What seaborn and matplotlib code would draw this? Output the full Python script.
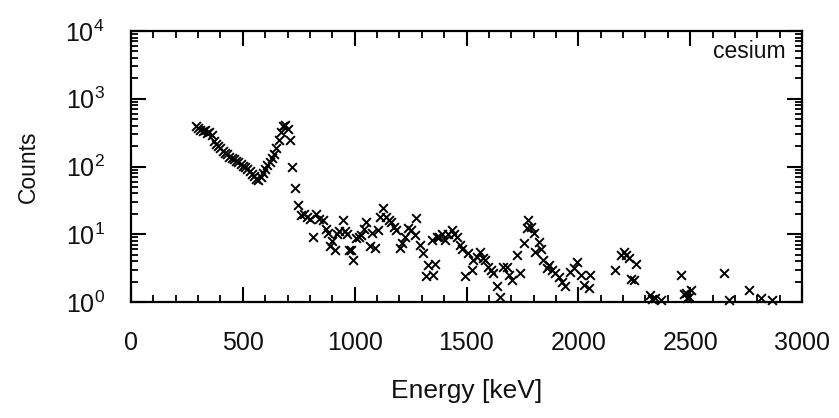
import numpy as np
import pandas as pd
import matplotlib
matplotlib.use("Agg")
import matplotlib.pyplot as plt
import seaborn as sns
from matplotlib.ticker import LogLocator, MultipleLocator, NullFormatter

# Gamma spectrum of a Cs-137 source: bin energy [keV] and counts per bin
energy = [
    290, 300, 310, 320, 330, 340, 350, 360, 370, 380, 390, 400, 410, 420, 430,
    440, 450, 460, 470, 480, 490, 500, 510, 520, 530, 540, 550, 560, 570, 580,
    590, 600, 610, 620, 630, 640, 650, 660, 670, 680, 690, 700, 710,
    720, 732, 745, 760, 772, 785, 800, 812, 827, 842, 857, 870, 879, 888, 900,
    910, 922, 931, 946, 955, 966, 976, 985, 994, 1006, 1018, 1030, 1041, 1052,
    1067, 1078, 1090, 1104, 1115, 1126, 1141, 1152, 1164, 1176, 1187, 1201,
    1212, 1224, 1239, 1253, 1268, 1276, 1291, 1306, 1321, 1329, 1344, 1351,
    1359, 1366, 1378, 1390, 1404, 1418, 1433, 1445, 1456, 1471, 1482, 1493,
    1508, 1523, 1530, 1545, 1561, 1572, 1583, 1595, 1608, 1620, 1635, 1650,
    1665, 1680, 1692, 1703, 1725, 1740, 1755, 1770, 1777, 1789, 1800, 1807,
    1822, 1833, 1844, 1859, 1870, 1884, 1897, 1912, 1926, 1941, 1964, 1979,
    1994, 2010, 2024, 2046, 2054, 2166, 2190, 2203, 2214, 2226, 2237, 2248,
    2256, 2319, 2330, 2345, 2368, 2457, 2471, 2480, 2488, 2495, 2502, 2652,
    2673, 2763, 2815, 2865,
]
counts = [
    390, 370, 340, 330, 350, 310, 320, 290, 240, 215, 200, 190, 170, 160, 155,
    140, 132, 128, 122, 118, 110, 103, 97, 92, 85, 78, 72, 66, 63, 70,
    80, 92, 105, 118, 135, 155, 190, 250, 320, 400, 410, 360, 250,
    100, 48, 27, 19, 20, 18, 17, 9.2, 20, 17, 16, 12, 10.4, 6.6, 8,
    5.9, 10, 11, 16, 11, 10, 5.9, 5.9, 4.2, 8.8, 9, 9.8, 12, 15.4,
    6.6, 10.4, 6.2, 11.6, 18, 24, 18, 16, 15.4, 13, 11.6, 6.2,
    7.5, 9.2, 12.3, 11.6, 9.8, 17.3, 7.0, 5.2, 2.4, 3.5, 8.3, 2.5,
    3.7, 9.2, 9, 10, 8.3, 10, 11.6, 10, 9.2, 7.0, 6, 2.4,
    5.2, 3.0, 4.2, 4.6, 5.5, 4.5, 4.2, 3.3, 3.0, 2.7, 1.7, 1.2,
    3.3, 3.26, 2.5, 2.1, 5.0, 2.7, 7.4, 12.3, 16.3, 13, 10.4, 5.5,
    7.8, 6, 4.2, 3.15, 3.5, 3, 2.7, 2.3, 2.0, 1.7, 2.8, 3.2,
    3.9, 2.5, 1.78, 1.6, 2.5, 3.0, 5, 5.5, 5, 4.4, 2.2, 2.1,
    3.7, 1.27, 1.1, 1.13, 1.07, 2.5, 1.3, 1.35, 1.13, 1.2, 1.5, 2.65,
    1.07, 1.5, 1.13, 1.07,
]
source_label = "cesium"
x_ticks = [0, 500, 1000, 1500, 2000, 2500, 3000]

df = pd.DataFrame({"Energy": energy, "Counts": counts})

sns.set_theme(style="ticks")
plt.rcParams["font.family"] = ["Liberation Sans", "DejaVu Sans"]
plt.rcParams["mathtext.fontset"] = "custom"
plt.rcParams["mathtext.rm"] = "Liberation Sans"
plt.rcParams["mathtext.it"] = "Liberation Sans"
plt.rcParams["mathtext.bf"] = "Liberation Sans"

fig, ax = plt.subplots(figsize=(8.39, 4.18), dpi=100)
fig.subplots_adjust(left=131 / 839, right=802 / 839, top=1 - 31 / 418, bottom=1 - 302 / 418)

sns.scatterplot(data=df, x="Energy", y="Counts", marker="x", color="black",
                s=40, linewidth=1.4, ax=ax, legend=False, clip_on=False, zorder=3)

ax.set_yscale("log")
ax.set_xlim(0, 3000)
ax.set_ylim(1, 1e4)
ax.set_xticks(x_ticks)
ax.xaxis.set_minor_locator(MultipleLocator(100))
ax.yaxis.set_major_locator(LogLocator(base=10, numticks=10))
ax.yaxis.set_minor_locator(LogLocator(base=10, subs=np.arange(2, 10), numticks=20))
ax.yaxis.set_minor_formatter(NullFormatter())

for side in ax.spines.values():
    side.set_linewidth(1.6)
    side.set_color("black")

ax.tick_params(which="both", direction="in", top=True, right=True, color="black",
               labelsize=18, labelcolor="#111111")
ax.tick_params(which="major", length=11, width=1.5)
ax.tick_params(which="minor", length=5, width=1.3)
ax.tick_params(axis="x", which="major", pad=21)
ax.tick_params(axis="y", which="major", pad=19)

ax.set_xlabel("Energy [keV]", fontsize=19, labelpad=17, color="#111111")
ax.set_ylabel("Counts", fontsize=16.5, labelpad=18, color="#111111")

ax.text(0.975, 0.965, source_label, transform=ax.transAxes, ha="right", va="top",
        fontsize=16.5, color="#111111")

fig.savefig("out.png", dpi=100)
